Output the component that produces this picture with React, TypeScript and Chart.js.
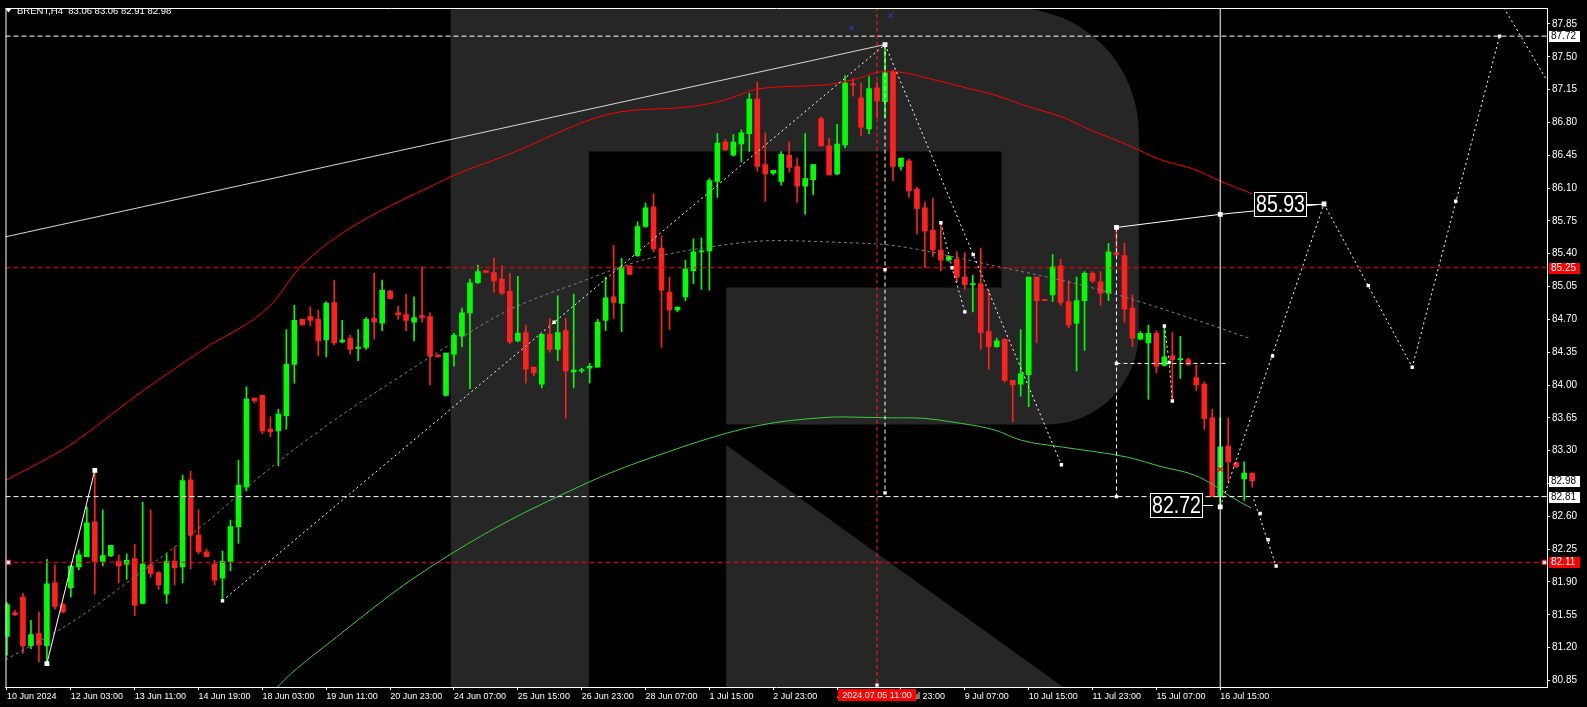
import React, { useEffect, useRef } from 'react';
import { Chart, registerables } from 'chart.js';

Chart.register(...registerables);

// ---------- candles (H4 bars, index 0 = first visible bar) ----------
const OPEN = [81.32,81.57,81.74,81.22,81.35,81.22,81.89,81.66,81.84,82.06,
82.17,82.54,82.12,82.18,82.12,82.09,82.15,81.67,82.08,82.00,
81.77,82.12,82.06,82.99,82.40,82.22,82.09,81.94,82.12,82.49,
82.91,83.86,83.89,83.53,83.51,83.67,84.22,84.70,84.73,84.70,
84.48,84.88,84.46,84.50,84.39,84.40,84.71,84.66,85.00,84.77,
84.75,84.67,84.74,84.73,84.32,83.89,84.33,84.52,84.77,85.09,
85.22,85.20,85.13,85.00,84.47,84.56,84.19,84.01,84.54,84.38,
84.58,84.14,84.15,84.18,84.19,84.69,84.94,84.87,85.27,85.38,
85.69,85.90,85.46,84.99,84.80,84.94,85.22,85.42,85.43,86.17,
86.59,86.45,86.57,86.68,87.05,86.35,86.26,86.17,86.45,86.33,
86.12,86.19,86.84,86.55,86.25,86.56,87.21,87.06,86.73,87.17,
87.02,87.34,86.33,86.39,86.09,85.89,85.65,85.44,85.33,85.34,
85.15,85.07,85.08,84.57,84.41,84.49,84.05,84.01,84.11,85.15,
84.91,84.96,85.27,84.89,84.66,84.90,85.19,85.10,84.98,85.41,
85.38,84.82,84.49,84.45,84.55,84.21,84.31,84.27,84.27,84.08,
84.01,83.65,82.81,83.35,83.17,83.00,83.06];
const HIGH = [81.68,81.60,81.78,81.49,81.58,82.14,82.08,81.67,82.08,82.24,
82.70,83.09,82.67,82.29,82.19,82.20,82.30,82.75,82.67,82.01,
82.20,82.27,83.04,83.08,82.67,82.25,82.13,82.23,82.56,83.20,
83.98,83.86,83.89,83.66,83.74,84.59,84.85,84.70,84.83,84.80,
84.89,85.12,84.69,84.53,84.59,84.72,85.19,85.12,85.01,84.84,
84.97,84.94,85.26,84.77,84.33,84.34,84.55,84.82,85.13,85.28,
85.22,85.35,85.27,85.19,85.16,84.64,84.19,84.54,84.71,84.95,
84.71,84.97,84.18,84.23,84.70,85.15,85.49,85.35,85.27,85.74,
85.94,86.04,85.59,85.15,84.83,85.33,85.56,85.57,86.20,86.68,
86.62,86.67,86.72,87.11,87.23,86.69,86.29,86.49,86.59,86.42,
86.68,86.35,86.86,86.63,86.78,87.30,87.27,87.22,87.29,87.23,
87.64,87.36,86.42,86.41,86.11,85.95,85.99,85.72,85.38,85.42,
85.41,85.17,85.46,85.01,84.50,84.49,84.05,84.59,85.15,85.15,
84.91,85.39,85.34,85.11,85.15,85.21,85.21,85.21,85.51,85.69,
85.51,84.96,84.57,84.64,84.58,84.62,84.56,84.52,84.29,84.21,
84.03,83.74,83.65,83.65,83.18,83.18,83.06];
const LOW = [81.12,81.54,81.14,81.19,81.05,81.03,81.61,81.57,81.74,82.03,
82.17,81.77,82.07,82.17,81.89,81.93,81.54,81.67,81.95,81.82,
81.67,81.87,81.89,82.04,82.20,82.17,81.87,81.70,82.02,82.31,
82.87,83.81,83.48,83.45,83.14,83.53,84.02,84.64,84.63,84.31,
84.30,84.43,84.45,84.33,84.26,84.38,84.49,84.58,84.92,84.70,
84.58,84.47,84.67,84.00,84.30,83.88,84.20,84.41,83.96,85.08,
85.20,84.99,84.96,84.44,84.46,84.02,84.10,83.97,84.35,84.26,
83.65,83.97,84.13,84.02,84.19,84.58,84.71,84.57,85.18,85.37,
85.68,85.42,84.40,84.59,84.78,84.90,85.08,85.02,85.01,86.00,
86.50,86.44,86.38,86.49,86.28,85.96,86.24,86.13,86.27,85.95,
85.82,86.03,86.55,86.24,86.24,86.53,87.08,86.66,86.68,86.85,
86.85,86.18,86.29,86.00,85.61,85.25,85.37,85.22,85.32,85.10,
85.02,84.78,84.38,84.17,84.40,84.03,83.61,83.88,83.77,84.45,
84.90,84.89,84.85,84.61,84.15,84.37,85.09,84.85,84.90,85.38,
84.67,84.41,84.48,83.85,84.13,84.20,83.85,84.07,84.21,83.94,
83.53,82.81,82.72,82.97,83.12,82.77,82.91];
const CLOSE = [81.66,81.55,81.22,81.34,81.23,81.88,81.64,81.58,82.07,82.19,
82.53,82.12,82.18,82.29,82.07,82.13,81.65,82.09,81.99,81.87,
82.12,82.05,82.98,82.40,82.22,82.17,81.92,82.12,82.49,82.93,
83.85,83.83,83.51,83.50,83.69,84.22,84.69,84.64,84.69,84.47,
84.87,84.45,84.48,84.38,84.40,84.70,84.67,85.01,84.92,84.75,
84.69,84.72,84.72,84.31,84.30,84.34,84.53,84.77,85.09,85.21,
85.20,85.11,84.98,84.46,84.55,84.17,84.13,84.54,84.38,84.56,
84.15,84.16,84.16,84.20,84.67,84.93,84.88,85.26,85.18,85.69,
85.89,85.45,85.01,84.80,84.83,85.24,85.42,85.43,86.18,86.58,
86.51,86.59,86.69,87.05,86.33,86.25,86.29,86.46,86.32,86.12,
86.20,86.35,86.55,86.24,86.57,87.22,87.20,86.75,87.16,87.03,
87.33,86.33,86.42,86.07,85.88,85.64,85.44,85.33,85.37,85.15,
85.07,85.08,84.56,84.41,84.47,84.05,84.00,84.12,85.15,84.90,
84.90,85.26,84.88,84.64,84.90,85.19,85.11,84.98,85.42,85.39,
84.81,84.50,84.55,84.55,84.20,84.30,84.27,84.28,84.22,84.00,
83.64,82.81,83.34,83.18,83.13,83.06,82.98];

// ---------- axes ----------
const X_TICK_BARS = [0,8,16,24,32,40,48,56,64,72,80,88,96,104,112,120,128,136,144,152];
const X_TICK_LABELS = ['10 Jun 2024','12 Jun 03:00','13 Jun 11:00','14 Jun 19:00','18 Jun 03:00',
  '19 Jun 11:00','20 Jun 23:00','24 Jun 07:00','25 Jun 15:00','26 Jun 23:00','28 Jun 07:00',
  '1 Jul 15:00','2 Jul 23:00','4 Jul 07:00','5 Jul 23:00','9 Jul 07:00','10 Jul 15:00',
  '11 Jul 23:00','15 Jul 07:00','16 Jul 15:00'];
const Y_TICKS = [80.85,81.20,81.55,81.90,82.25,82.60,82.95,83.30,83.65,84.00,84.35,84.70,
  85.05,85.40,85.75,86.10,86.45,86.80,87.15,87.50,87.85];

// ---------- moving averages ----------
const RED_MA_BARS = [-0.2,7.9,16.25,24.6,32.9,37.1,54.6,62.9,75.5,85.8,90,94.2,102.5,106.7,109.6,111.2,115.4,119.6,123.8,127.9,132.1,136.3,140.4,144.6,148.75,152.1,156];
const RED_MA_VALUES = [82.98,83.36,83.89,84.38,84.84,85.29,86.18,86.46,86.89,86.97,87.04,87.16,87.20,87.27,87.34,87.34,87.27,87.18,87.09,86.97,86.86,86.70,86.56,86.40,86.30,86.17,86.04];
const GRAY_MA_BARS = [-0.2,7.9,16.25,24.6,32.9,41.25,49.6,55.85,62.9,71.25,79.6,87.9,96.25,104.6,110.8,123.75,136.25,148.75,155.6];
const GRAY_MA_VALUES = [81.07,81.46,81.97,82.51,83.11,83.64,84.11,84.45,84.80,85.08,85.33,85.47,85.54,85.52,85.49,85.27,85.03,84.70,84.50];
const GREEN_MA_BARS = [33.6,34.8,41.25,49.6,55.85,62.8,70.5,75.5,82.9,87.9,92.1,96.25,100.4,104.6,110.8,113.3,119.6,123.75,127.1,132.1,140.4,144.6,148.75,151.25,153.3,155.85];
const GREEN_MA_VALUES = [80.75,80.86,81.31,81.86,82.21,82.55,82.87,83.06,83.29,83.43,83.53,83.60,83.64,83.66,83.65,83.65,83.59,83.52,83.41,83.34,83.23,83.13,83.04,82.93,82.81,82.69];

// ---------- drawn objects ----------
const WHITE_LEVELS = [87.72, 82.81];
const RED_LEVELS = [85.25, 82.11];
const TREND_BARS = [-0.2, 110];
const TREND_PRICES = [85.58, 87.63];
const SWING_BARS = [5, 11];
const SWING_PRICES = [81.03, 83.09];
const UP_WAVE_BARS = [27, 110];
const UP_WAVE_PRICES = [81.70, 87.63];
const DOWN_WAVE_BARS = [110, 132.1];
const DOWN_WAVE_PRICES = [87.63, 83.15];
const SUB_WAVE_BARS = [117, 118.4, 120];
const SUB_WAVE_PRICES = [85.73, 85.25, 84.78];
const SUB_WAVE2_BARS = [145, 145.6, 146];
const SUB_WAVE2_PRICES = [84.63, 84.24, 83.83];
const PEAK_DROP_BARS = [110, 110];
const PEAK_DROP_PRICES = [87.63, 82.85];
const RANGE_DROP_BARS = [139, 139];
const RANGE_DROP_PRICES = [85.68, 82.81];
const RANGE_MID_BARS = [139, 152.9];
const RANGE_MID_PRICES = [84.23, 84.23];
const TARGET_BARS = [139, 152, 165];
const TARGET_PRICES = [85.68, 85.82, 85.93];
const FORECAST_BARS = [152, 165, 176.05, 187];
const FORECAST_PRICES = [82.70, 85.93, 84.19, 87.72];
const FORECAST_DOWN_BARS = [156.2, 159];
const FORECAST_DOWN_PRICES = [82.78, 82.07];
const OUTER_WAVE_BARS = [187.2, 193.2];
const OUTER_WAVE_PRICES = [88.07, 87.21];
const MARKER_BARS = [27,68.55,117,118.4,120,121.05,132.1,110,110,139,139,145,145.6,146,158.55,170.55,176.05,181.5,187,157,158,159,109];
const MARKER_PRICES = [81.70,84.67,85.73,85.25,84.78,85.39,83.15,85.23,82.85,84.23,82.81,84.63,84.24,83.83,84.31,85.06,84.19,85.96,87.72,82.63,82.35,82.07,80.80];
const SQUARE_BARS = [5, 11, 110, 139, 152, 165, 152];
const SQUARE_PRICES = [81.03, 83.09, 87.63, 85.68, 85.82, 85.93, 82.70];
const BLUE_CROSS_BARS = [105.8, 110.7];
const BLUE_CROSS_PRICES = [87.81, 87.94];
const RED_CROSS_BARS = [152];
const RED_CROSS_PRICES = [83.10];
const LEVEL_END_BARS = [0.19, 192.6];
const LEVEL_END_PRICES = [82.11, 82.11];
const CURSOR_BAR = 152;
const TIME_MARK_BAR = 109;
const TIME_MARK_LABEL = '2024.07.05 11:00';
const VALUE_LABEL_BARS = [152, 165];
const VALUE_LABEL_PRICES = [82.72, 85.93];
const TAG_PRICES = [87.72, 85.25, 82.98, 82.81, 82.11];
const TAG_KINDS = ['white', 'red', 'white', 'white', 'red'];
const SYMBOL = 'BRENT,H4';

const X_MIN = -0.1875, X_MAX = 192.9375, Y_MIN = 80.78, Y_MAX = 88.02;

// watermark logo ("R"), in bar / price units
const LOGO = { left: 55.6, stemRight: 72.9, armLeft: 90.1, holeRight: 124.6, right: 141.8, legRight: 132.3,
  top: 88.02, holeTop: 86.49, holeBottom: 85.04, bowlBottom: 83.58, legTop: 83.36 };

const GREEN = '#00ff00';
const RED = '#ff2020';
const FONT = '"Liberation Sans", Arial, sans-serif';

const pts = (xs: number[], ys: number[]) => xs.map((x, i) => ({ x, y: ys[i] }));

const line = (data: any[], color: string, dash: number[] = [], order = 1, extra: any = {}) => ({
  type: 'line', data, borderColor: color, borderWidth: 1, borderDash: dash, pointRadius: 0,
  fill: false, tension: 0, order, ...extra,
});

const decorPlugin = {
  id: 'decor',
  beforeDraw(chart: any) {
    const { ctx, width, height } = chart;
    ctx.save();
    ctx.fillStyle = '#000';
    ctx.fillRect(0, 0, width, height);
    ctx.restore();
  },
  beforeDatasetsDraw(chart: any) {
    const { ctx, chartArea: a, scales } = chart;
    const px = (v: number) => scales.x.getPixelForValue(v);
    const py = (v: number) => scales.y.getPixelForValue(v);
    ctx.save();
    ctx.beginPath();
    ctx.rect(a.left, a.top, a.right - a.left, a.bottom - a.top);
    ctx.clip();
    ctx.fillStyle = '#262626';
    const xl = px(LOGO.left), xs = px(LOGO.stemRight), xa = px(LOGO.armLeft), xh = px(LOGO.holeRight);
    const xr = px(LOGO.right), xg = px(LOGO.legRight);
    const yt = py(LOGO.top), yht = py(LOGO.holeTop), yhb = py(LOGO.holeBottom), yb = py(LOGO.bowlBottom);
    const ylt = py(LOGO.legTop), ybot = a.bottom;
    const r1 = 125, r2 = 92;
    ctx.beginPath();
    ctx.moveTo(xl, yt);
    ctx.lineTo(xr - r1, yt);
    ctx.arcTo(xr, yt, xr, yt + r1, r1);
    ctx.lineTo(xr, yb - r2);
    ctx.arcTo(xr, yb, xr - r2, yb, r2);
    ctx.lineTo(xl, yb);
    ctx.closePath();
    ctx.moveTo(xs, yht);
    ctx.lineTo(xh, yht);
    ctx.lineTo(xh, yhb);
    ctx.lineTo(xa, yhb);
    ctx.lineTo(xa, yb);
    ctx.lineTo(xs, yb);
    ctx.closePath();
    ctx.fill('evenodd');
    ctx.fillRect(xl, yt, xs - xl, ybot - yt);
    ctx.beginPath();
    ctx.moveTo(xa, ylt);
    ctx.lineTo(xg, ybot);
    ctx.lineTo(xa, ybot);
    ctx.closePath();
    ctx.fill();
    ctx.restore();
  },
  afterDraw(chart: any) {
    const { ctx, chartArea: a, scales } = chart;
    const px = (v: number) => scales.x.getPixelForValue(v);
    const py = (v: number) => scales.y.getPixelForValue(v);
    ctx.save();
    // frame (top and left edges)
    ctx.strokeStyle = '#ffffff';
    ctx.lineWidth = 1;
    ctx.beginPath();
    ctx.moveTo(a.left + 0.5, a.bottom);
    ctx.lineTo(a.left + 0.5, a.top + 0.5);
    ctx.lineTo(a.right, a.top + 0.5);
    ctx.stroke();

    // title
    ctx.fillStyle = '#ffffff';
    ctx.beginPath();
    ctx.moveTo(5, 8); ctx.lineTo(12, 8); ctx.lineTo(8.5, 12.5); ctx.closePath();
    ctx.fill();
    const n = CLOSE.length - 1;
    ctx.font = '9.5px ' + FONT;
    ctx.textBaseline = 'middle';
    ctx.textAlign = 'left';
    ctx.fillText(`${SYMBOL}  ${OPEN[n].toFixed(2)} ${HIGH[n].toFixed(2)} ${LOW[n].toFixed(2)} ${CLOSE[n].toFixed(2)}`, 17, 11);

    // price tags on the right axis
    ctx.font = '10px ' + FONT;
    TAG_PRICES.forEach((p, i) => {
      const yy = Math.round(py(p));
      const red = TAG_KINDS[i] === 'red';
      ctx.fillStyle = red ? '#ff0000' : '#ffffff';
      ctx.fillRect(a.right + 2, yy - 5, 31, 11);
      ctx.fillStyle = red ? '#ffffff' : '#000000';
      ctx.fillText(p.toFixed(2), a.right + 4, yy + 0.5, 28);
    });

    // time tag on the bottom axis
    const tx = Math.round(px(TIME_MARK_BAR));
    ctx.font = '9px ' + FONT;
    ctx.fillStyle = '#ff0000';
    ctx.fillRect(tx - 39, a.bottom + 2, 78, 12);
    ctx.fillStyle = '#ffffff';
    ctx.textAlign = 'center';
    ctx.fillText(TIME_MARK_LABEL, tx, a.bottom + 8.5);

    // value labels (boxed)
    VALUE_LABEL_BARS.forEach((b, i) => {
      const ax = px(b), ay = py(VALUE_LABEL_PRICES[i]);
      const w = 52, h = 24;
      const right = Math.round(ax - 18);
      const left = right - w;
      const top = Math.round(ay - h / 2);
      ctx.fillStyle = '#000000';
      ctx.fillRect(left, top, w, h);
      ctx.strokeStyle = '#ffffff';
      ctx.strokeRect(left + 0.5, top + 0.5, w, h);
      ctx.beginPath();
      ctx.moveTo(right + 1, Math.round(ay) + 0.5);
      ctx.lineTo(right + 11, Math.round(ay) + 0.5);
      ctx.stroke();
      ctx.fillStyle = '#ffffff';
      ctx.font = '23px ' + FONT;
      ctx.textAlign = 'center';
      ctx.textBaseline = 'middle';
      ctx.fillText(VALUE_LABEL_PRICES[i].toFixed(2), left + w / 2 + 0.5, top + h / 2 + 1.5, w - 3);
    });
    ctx.restore();
  },
};

export default function App() {
  const ref = useRef<HTMLCanvasElement>(null);
  useEffect(() => {
    const canvas = ref.current;
    if (!canvas) return;
    const idx = OPEN.map((_, i) => i);
    const colors = idx.map((i) => (CLOSE[i] >= OPEN[i] ? GREEN : RED));
    const datasets: any[] = [
      // markers
      { type: 'line', showLine: false, data: pts(MARKER_BARS, MARKER_PRICES), pointStyle: 'rect', pointRadius: 2.4,
        pointBackgroundColor: '#ffffff', pointBorderWidth: 0, order: 0 },
      { type: 'line', showLine: false, data: pts(SQUARE_BARS, SQUARE_PRICES), pointStyle: 'rect', pointRadius: 3.4,
        pointBackgroundColor: '#ffffff', pointBorderWidth: 0, order: 0 },
      { type: 'line', showLine: false, data: pts(BLUE_CROSS_BARS, BLUE_CROSS_PRICES), pointStyle: 'crossRot', pointRadius: 3,
        pointBorderColor: '#3a3aff', pointBorderWidth: 1, order: 0 },
      { type: 'line', showLine: false, data: pts(RED_CROSS_BARS, RED_CROSS_PRICES), pointStyle: 'crossRot', pointRadius: 3,
        pointBorderColor: '#ff0000', pointBorderWidth: 1.5, order: 0 },
      { type: 'line', showLine: false, data: pts(LEVEL_END_BARS, LEVEL_END_PRICES), pointStyle: 'rect', pointRadius: 3,
        pointBackgroundColor: '#ffffff', pointBorderColor: '#ff0000', pointBorderWidth: 1, order: 0 },
      // analysis lines
      line(pts(TREND_BARS, TREND_PRICES), '#d8d8d8', [], 1),
      line(pts(SWING_BARS, SWING_PRICES), '#ffffff', [], 1),
      line(pts(UP_WAVE_BARS, UP_WAVE_PRICES), '#ffffff', [2, 3], 1),
      line(pts(DOWN_WAVE_BARS, DOWN_WAVE_PRICES), '#ffffff', [2, 3], 1),
      line(pts(SUB_WAVE_BARS, SUB_WAVE_PRICES), '#ffffff', [2, 3], 1),
      line(pts(SUB_WAVE2_BARS, SUB_WAVE2_PRICES), '#ffffff', [2, 3], 1),
      line(pts(PEAK_DROP_BARS, PEAK_DROP_PRICES), '#ffffff', [4, 3], 1),
      line(pts(RANGE_DROP_BARS, RANGE_DROP_PRICES), '#ffffff', [4, 3], 1),
      line(pts(RANGE_MID_BARS, RANGE_MID_PRICES), '#ffffff', [4, 3], 1),
      line(pts(TARGET_BARS, TARGET_PRICES), '#ffffff', [], 1),
      line(pts(FORECAST_BARS, FORECAST_PRICES), '#ffffff', [2, 3], 1),
      line(pts(FORECAST_DOWN_BARS, FORECAST_DOWN_PRICES), '#ffffff', [2, 3], 1),
      line(pts(OUTER_WAVE_BARS, OUTER_WAVE_PRICES), '#ffffff', [2, 3], 1),
      line(pts([CURSOR_BAR, CURSOR_BAR], [Y_MIN - 1, Y_MAX + 1]), '#ffffff', [], 1),
      line(pts([TIME_MARK_BAR, TIME_MARK_BAR], [Y_MIN - 1, Y_MAX + 1]), '#ff2020', [4, 3], 2),
      // horizontal levels
      ...WHITE_LEVELS.map((p) => line(pts([X_MIN - 1, X_MAX + 1], [p, p]), '#ffffff', [5, 3], 2)),
      ...RED_LEVELS.map((p) => line(pts([X_MIN - 1, X_MAX + 1], [p, p]), '#ff0000', [5, 3], 2)),
      // moving averages
      line(pts(RED_MA_BARS, RED_MA_VALUES), '#ff0000', [], 3, { cubicInterpolationMode: 'monotone' }),
      line(pts(GRAY_MA_BARS, GRAY_MA_VALUES), '#808080', [3, 3], 3, { cubicInterpolationMode: 'monotone' }),
      line(pts(GREEN_MA_BARS, GREEN_MA_VALUES), '#3ccc3c', [], 3, { cubicInterpolationMode: 'monotone' }),
      // candle bodies and wicks
      { type: 'bar', data: idx.map((i) => ({ x: i, y: [OPEN[i], CLOSE[i]] })), backgroundColor: colors,
        barThickness: 5, grouped: false, minBarLength: 1, borderWidth: 0, order: 4 },
      { type: 'bar', data: idx.map((i) => ({ x: i, y: [LOW[i], HIGH[i]] })), backgroundColor: colors,
        barThickness: 1, grouped: false, minBarLength: 1, borderWidth: 0, order: 5 },
    ];

    const chart = new Chart(canvas, {
      type: 'bar',
      data: { datasets },
      options: {
        responsive: false,
        animation: false,
        devicePixelRatio: 1,
        events: [],
        layout: { padding: { left: 2, top: 2, right: 0, bottom: 0 } },
        plugins: { legend: { display: false }, tooltip: { enabled: false }, title: { display: false } },
        scales: {
          x: {
            type: 'linear', min: X_MIN, max: X_MAX, offset: false,
            grid: { drawOnChartArea: false, drawTicks: true, tickLength: 3, tickColor: '#ffffff', offset: false },
            border: { display: true, color: '#ffffff', width: 1 },
            ticks: {
              color: '#ffffff', font: { family: FONT, size: 9 }, padding: 1, maxRotation: 0, minRotation: 0,
              autoSkip: false, align: 'start',
              callback: (v: any) => { const j = X_TICK_BARS.indexOf(Number(v)); return j >= 0 ? X_TICK_LABELS[j] : ''; },
            },
            afterBuildTicks: (s: any) => { s.ticks = X_TICK_BARS.map((v) => ({ value: v })); },
            afterFit: (s: any) => { s.height = 20; },
          },
          y: {
            type: 'linear', position: 'right', min: Y_MIN, max: Y_MAX,
            grid: { drawOnChartArea: false, drawTicks: true, tickLength: 3, tickColor: '#ffffff' },
            border: { display: true, color: '#ffffff', width: 1 },
            ticks: { color: '#ffffff', font: { family: FONT, size: 10 }, padding: 2, autoSkip: false,
              callback: (v: any) => Number(v).toFixed(2) },
            afterBuildTicks: (s: any) => { s.ticks = Y_TICKS.map((v) => ({ value: v })); },
            afterFit: (s: any) => { s.width = 40; },
          },
        },
      } as any,
      plugins: [decorPlugin],
    } as any);
    return () => chart.destroy();
  }, []);

  return (
    <div style={{ position: 'fixed', left: 0, top: 0, width: 1587, height: 707, background: '#000' }}>
      <canvas ref={ref} width={1587} height={707} style={{ display: 'block', width: 1587, height: 707 }} />
    </div>
  );
}
